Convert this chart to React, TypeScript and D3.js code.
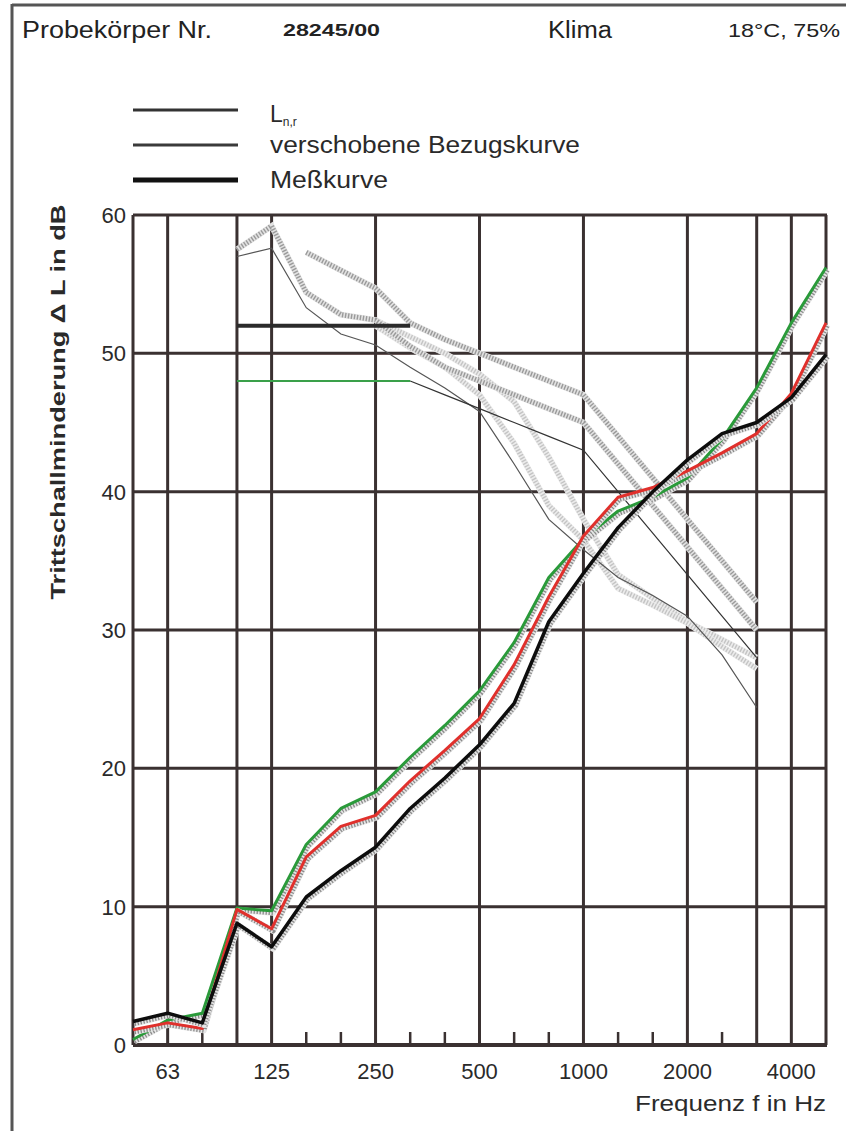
import React from "react";
import * as d3 from "d3";

// third-octave bands shown on the x axis
const bands = ["50", "63", "80", "100", "125", "160", "200", "250", "315", "400", "500",
  "630", "800", "1000", "1250", "1600", "2000", "2500", "3150", "4000", "5000"];
const tickLabels = ["63", "125", "250", "500", "1000", "2000", "4000"];
const gridBands = ["50", "63", "100", "125", "250", "500", "1000", "2000", "3150", "4000", "5000"];
const yTicks = [0, 10, 20, 30, 40, 50, 60];

// measured curves (all bands)
const greenVals = [0.4, 1.8, 2.3, 9.9, 9.7, 14.5, 17.1, 18.3, 20.8, 23.1, 25.6, 29.1, 33.8, 36.6, 38.6, 39.6, 41.0, 43.8, 47.5, 52.2, 56.2];
const redVals = [1.1, 1.6, 1.2, 9.8, 8.4, 13.6, 15.8, 16.6, 19.1, 21.3, 23.6, 27.5, 32.4, 36.8, 39.6, 40.3, 41.5, 42.8, 44.2, 47.1, 52.2];
const blackVals = [1.7, 2.3, 1.6, 8.8, 7.1, 10.7, 12.6, 14.3, 17.1, 19.3, 21.7, 24.7, 30.6, 34.1, 37.4, 40.0, 42.3, 44.2, 45.0, 46.8, 49.9];

// reference-range bands 100 .. 3150
const refBands = ["100", "125", "160", "200", "250", "315", "400", "500", "630", "800", "1000", "1250", "1600", "2000", "2500", "3150"];
const hatchA = [null, null, 57.3, 56.0, 54.7, 52.2, 51, 50, 49, 48, 47, 44, 41, 38, 35, 32];
const hatchB = [57.5, 59.2, 54.4, 52.8, 52.4, 50.5, 49, 48, 47, 46, 45, 42, 39, 36, 33, 30];
const hatchC = [null, null, null, null, 52.4, 51.2, 50, 48.5, 46.5, 42.5, 38, 34, 32.3, 30.6, 29.3, 28];
const hatchD = [null, null, null, null, 52.0, 50.4, 49, 47, 43.5, 39, 36.5, 33, 31.8, 30.5, 28.8, 27.2];
const thinLine = [57, 57.6, 53.3, 51.4, 50.6, 49, 47.5, 45.8, 42, 38, 35.8, 33.8, 32.5, 31, 28.2, 24.4];
const thinShift = [null, null, null, null, null, 48, 47, 46, 45, 44, 43, 40, 37, 34, 31, 28];
// flat parts of the shifted reference curves (100 .. 315 Hz)
const flatBands = ["100", "125", "160", "200", "250", "315"];
const flatBlack = [52, 52, 52, 52, 52, 52];
const flatGreen = [48, 48, 48, 48, 48, 48];
const flatRed = [50, 50, 50, 50, 50, 50];

const legendItems = ["verschobene Bezugskurve", "Meßkurve"];

const x = d3.scalePoint<string>().domain(bands).range([133, 826]);
const y = d3.scaleLinear().domain([0, 60]).range([1045, 215]);

const line = d3
  .line<[string, number | null]>()
  .defined((d) => d[1] != null)
  .x((d) => x(d[0]) as number)
  .y((d) => y(d[1] as number));

function path(cats: string[], vals: (number | null)[]) {
  return line(cats.map((c, i) => [c, vals[i]] as [string, number | null])) || "";
}

const font = "'Liberation Sans', Arial, sans-serif";
const gridColor = "#3a3131";

function Hatched({d, light}: {d: string; light?: boolean}) {
  return (
    <g fill="none">
      <path d={d} stroke={light ? "#ececec" : "#e2e2e2"} strokeWidth={6} />
      <path d={d} stroke={light ? "#c4c4c4" : "#9a9a9a"} strokeWidth={5} strokeDasharray="1.4 1.6" />
    </g>
  );
}

function Measured({vals, color, width}: {vals: number[]; color: string; width: number}) {
  const d = path(bands, vals);
  return (
    <g fill="none" strokeLinejoin="round">
      <path d={d} transform="translate(1.5,2)" stroke="#e6e6e6" strokeWidth={6} />
      <path d={d} transform="translate(1.5,2)" stroke="#8a8a8a" strokeWidth={5} strokeDasharray="1.3 1.7" />
      <path d={d} stroke={color} strokeWidth={width} />
    </g>
  );
}

export default function App() {
  const shortTicks = bands.filter((b) => !gridBands.includes(b));
  return (
    <svg width={846} height={1131} style={{position: "absolute", left: 0, top: 0, background: "#fff"}}>
      <rect width={846} height={1131} fill="#fff" />
      {/* page frame */}
      <line x1={12} x2={846} y1={5} y2={5} stroke="#555" strokeWidth={3} />
      <line x1={12} x2={12} y1={4} y2={1131} stroke="#555" strokeWidth={3} />

      {/* header */}
      <g fontFamily={font} fill="#222">
        <text x={22} y={38} fontSize={23} textLength={190} lengthAdjust="spacingAndGlyphs">Probekörper Nr.</text>
        <text x={283} y={36} fontSize={17} fontWeight="bold" textLength={97} lengthAdjust="spacingAndGlyphs">28245/00</text>
        <text x={548} y={38} fontSize={23} textLength={64} lengthAdjust="spacingAndGlyphs">Klima</text>
        <text x={728} y={37} fontSize={19} textLength={112} lengthAdjust="spacingAndGlyphs">18°C, 75%</text>
      </g>

      {/* legend */}
      <g>
        <line x1={133} x2={238} y1={110} y2={110} stroke="#333" strokeWidth={3} />
        <line x1={133} x2={238} y1={145} y2={145} stroke="#3a3a3a" strokeWidth={3} />
        <line x1={133} x2={238} y1={180} y2={180} stroke="#111" strokeWidth={5} />
        <g fontFamily={font} fill="#2a2a2a" fontSize={23}>
          <text x={270} y={122}>L<tspan fontSize={12} dy={4}>n,r</tspan></text>
          <text x={270} y={153} textLength={310} lengthAdjust="spacingAndGlyphs">{legendItems[0]}</text>
          <text x={270} y={188} textLength={118} lengthAdjust="spacingAndGlyphs">{legendItems[1]}</text>
        </g>
      </g>

      {/* red flat segment sits under the 50 dB grid line */}
      <path d={path(flatBands, flatRed)} stroke="#e03030" strokeWidth={2} fill="none" />

      {/* grid */}
      <g stroke={gridColor} strokeWidth={3}>
        {yTicks.map((t) => (
          <line key={t} x1={133} x2={827} y1={y(t)} y2={y(t)} strokeWidth={t === 0 ? 4 : 3} />
        ))}
        {gridBands.map((b) => (
          <line key={b} x1={x(b)} x2={x(b)} y1={y(60)} y2={y(0)} />
        ))}
        {shortTicks.map((b) => (
          <line key={b} x1={x(b)} x2={x(b)} y1={y(0) - 13} y2={y(0)} strokeWidth={2.5} />
        ))}
      </g>

      {/* shifted reference curves and related lines */}
      <Hatched d={path(refBands, hatchC)} light />
      <Hatched d={path(refBands, hatchD)} light />
      <Hatched d={path(refBands, hatchB)} />
      <Hatched d={path(refBands, hatchA)} />
      <path d={path(refBands, thinLine)} stroke="#555" strokeWidth={1.2} fill="none" />
      <path d={path(refBands, thinShift)} stroke="#333" strokeWidth={1.2} fill="none" />
      <path d={path(flatBands, flatGreen)} stroke="#3aa04a" strokeWidth={2} fill="none" />
      <path d={path(flatBands, flatBlack)} stroke="#2b2b2b" strokeWidth={4} fill="none" />

      {/* measured curves */}
      <Measured vals={greenVals} color="#2a9a3a" width={3} />
      <Measured vals={redVals} color="#e0302c" width={3} />
      <Measured vals={blackVals} color="#0d0d0d" width={3.5} />

      {/* axis labels */}
      <g fontFamily={font} fill="#2a2a2a" fontSize={22}>
        {yTicks.map((t) => (
          <text key={t} x={126} y={y(t) + 8} textAnchor="end">{t}</text>
        ))}
        {tickLabels.map((t) => (
          <text key={t} x={x(t)} y={1079} textAnchor="middle">{t}</text>
        ))}
        <text x={635} y={1111} textLength={191} lengthAdjust="spacingAndGlyphs">Frequenz f in Hz</text>
        <text
          transform={`translate(65,${402}) rotate(-90)`}
          textAnchor="middle"
          fontWeight="bold"
          fontSize={21}
          textLength={395}
          lengthAdjust="spacingAndGlyphs"
        >
          Trittschallminderung Δ L in dB
        </text>
      </g>
    </svg>
  );
}
